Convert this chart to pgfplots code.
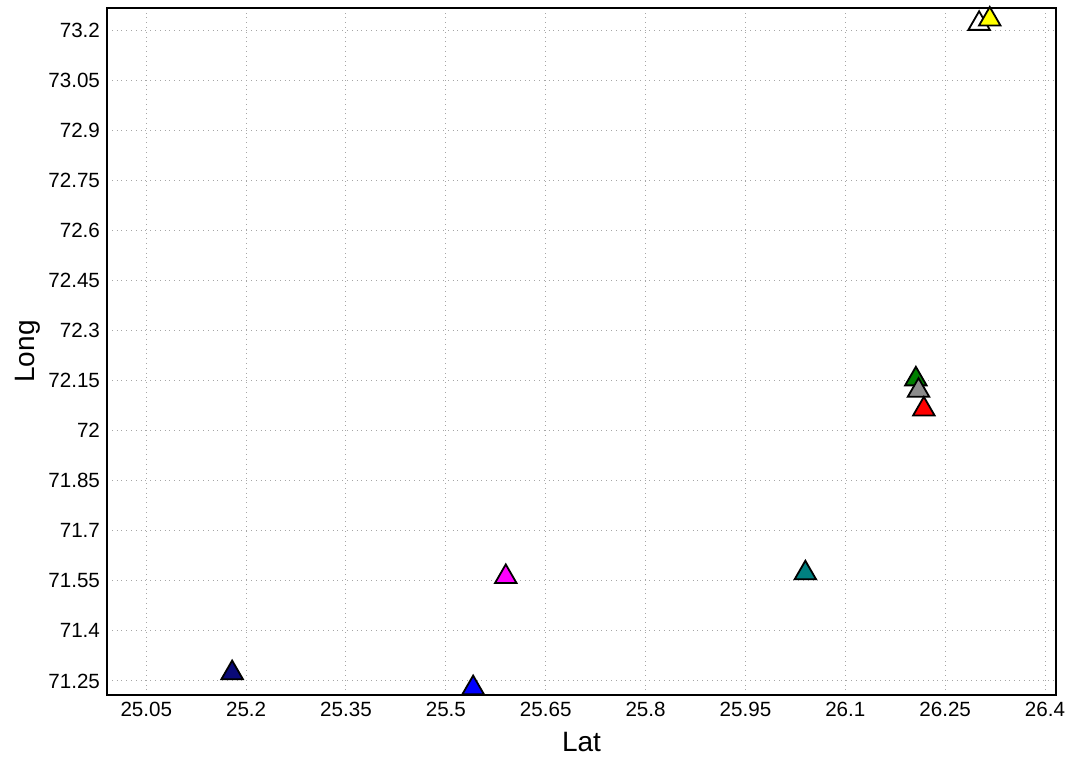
\documentclass[border=0pt]{standalone}
\usepackage{pgfplots}
\pgfplotsset{compat=1.18}
\usepackage{fontspec}
\setmainfont{Liberation Sans}
\definecolor{navyc}{RGB}{10,10,120}
\definecolor{bluec}{RGB}{0,0,255}
\definecolor{magc}{RGB}{255,0,255}
\definecolor{tealc}{RGB}{0,128,128}
\definecolor{greenc}{RGB}{0,128,0}
\definecolor{grayc}{RGB}{140,140,140}
\definecolor{redc}{RGB}{255,0,0}
\definecolor{yelc}{RGB}{255,255,0}
\pgfplotsset{tri/.style={only marks, mark=triangle*, mark size=6.2pt,
  mark options={draw=black, line width=0.9pt, fill=#1}}}
\begin{document}
\begin{tikzpicture}
\begin{axis}[
  scale only axis,
  width=474.5pt, height=343.5pt,
  xmin=24.991, xmax=26.4165,
  ymin=71.208, ymax=73.266,
  xtick={25.05,25.2,25.35,25.5,25.65,25.8,25.95,26.1,26.25,26.4},
  ytick={71.25,71.4,71.55,71.7,71.85,72,72.15,72.3,72.45,72.6,72.75,72.9,73.05,73.2},
  xticklabels={25.05,25.2,25.35,25.5,25.65,25.8,25.95,26.1,26.25,26.4},
  yticklabels={71.25,71.4,71.55,71.7,71.85,72,72.15,72.3,72.45,72.6,72.75,72.9,73.05,73.2},
  /pgf/number format/assume math mode=true,
  tick label style={font=\fontsize{10.3}{11}\selectfont},
  major tick length=0pt,
  grid=major,
  major grid style={gray!70, dotted, line width=0.5pt},
  axis line style={black, line width=1.1pt},
  xlabel={Lat}, ylabel={Long},
  label style={font=\fontsize{14}{16}\selectfont},
  xlabel style={yshift=-1pt},
  ylabel style={yshift=-3pt},
  clip=false,
]
\addplot[tri=navyc] coordinates {(25.179,71.274)};
\addplot[tri=bluec] coordinates {(25.541,71.229)};
\addplot[tri=magc] coordinates {(25.590,71.562)};
\addplot[tri=tealc] coordinates {(26.040,71.573)};
\addplot[tri=greenc] coordinates {(26.206,72.154)};
\addplot[tri=grayc] coordinates {(26.210,72.120)};
\addplot[tri=redc] coordinates {(26.218,72.064)};
\addplot[tri=white] coordinates {(26.301,73.219)};
\addplot[tri=yelc] coordinates {(26.317,73.232)};
\end{axis}
\pgfresetboundingbox
\path ([xshift=-53.5pt,yshift=-31.5pt]current axis.south west) rectangle ++(532.5pt,379pt);
\end{tikzpicture}
\end{document}
